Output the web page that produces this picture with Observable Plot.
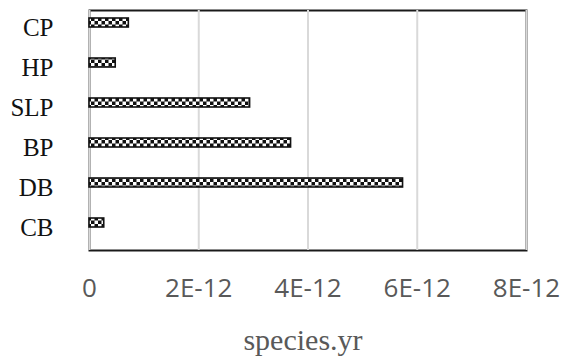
<!DOCTYPE html>
<html>
<head>
<meta charset="utf-8">
<script src="https://cdn.jsdelivr.net/npm/d3@7"></script>
<script src="https://cdn.jsdelivr.net/npm/@observablehq/plot@0.6"></script>
<style>
  html, body { margin: 0; padding: 0; background: #fff; }
</style>
</head>
<body>
<div id="chart"></div>
<script>
const categories = ["CP", "HP", "SLP", "BP", "DB", "CB"];
const values = [0.72e-12, 0.48e-12, 2.94e-12, 3.69e-12, 5.74e-12, 0.27e-12];
const tickValues = [0, 2e-12, 4e-12, 6e-12, 8e-12];
const tickLabels = ["0", "2E-12", "4E-12", "6E-12", "8E-12"];
const axisTitle = "species.yr";

const data = categories.map((c, i) => ({category: c, value: values[i]}));
const labelOf = new Map(tickValues.map((t, i) => [t, tickLabels[i]]));

const chart = Plot.plot({
  width: 566,
  height: 356,
  marginLeft: 89,
  marginRight: 40,
  marginTop: 10,
  marginBottom: 106,
  style: {background: "#fff"},
  x: {domain: [0, 8e-12]},
  y: {domain: categories, padding: 0},
  marks: [
    Plot.frame({stroke: "#1a1a1a", strokeWidth: 2}),
    Plot.ruleX(tickValues, {stroke: "#d9d9d9", strokeWidth: 2}),
    Plot.barX(data, {
      x: "value", y: "category",
      fill: "url(#chk)", stroke: "#111", strokeWidth: 1.6,
      insetTop: 8, insetBottom: 23
    }),
    Plot.axisY({
      tickSize: 0, tickPadding: 36, dy: -3, label: null,
      fontSize: 25, fontFamily: "Liberation Serif", fill: "#111"
    }),
    Plot.axisX({
      ticks: tickValues, tickFormat: d => labelOf.get(d),
      tickSize: 0, tickPadding: 28, label: null,
      fontSize: 26, fontFamily: "Open Sans", fill: "#595959"
    }),
    Plot.text([axisTitle], {
      frameAnchor: "bottom", dy: 99, dx: -5, lineAnchor: "bottom",
      fontSize: 30, fontFamily: "Liberation Serif", fill: "#595959"
    })
  ]
});

const svg = d3.select(chart);
const defs = svg.insert("defs", ":first-child");
const pat = defs.append("pattern")
  .attr("id", "chk").attr("patternUnits", "userSpaceOnUse")
  .attr("width", 7).attr("height", 7);
pat.append("rect").attr("width", 7).attr("height", 7).attr("fill", "#111");
pat.append("rect").attr("width", 3.5).attr("height", 3.5).attr("fill", "#fff");
pat.append("rect").attr("x", 3.5).attr("y", 3.5).attr("width", 3.5).attr("height", 3.5).attr("fill", "#fff");

document.getElementById("chart").appendChild(chart);
</script>
</body>
</html>
